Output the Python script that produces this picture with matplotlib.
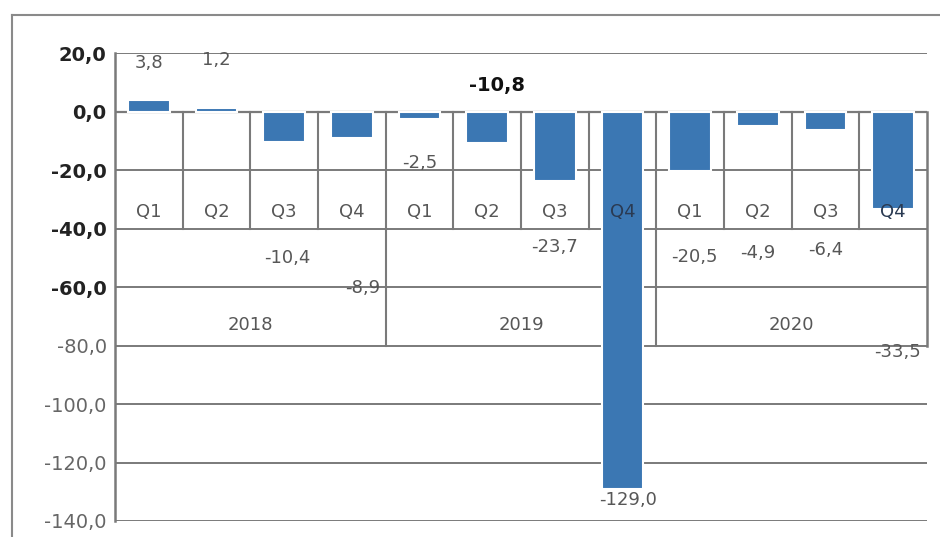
import matplotlib
matplotlib.use("Agg")
import matplotlib.pyplot as plt
from matplotlib.lines import Line2D
import numpy as np

# data
years = ["2018", "2019", "2020"]
quarters = ["Q1", "Q2", "Q3", "Q4"] * 3
values = [3.8, 1.2, -10.4, -8.9, -2.5, -10.8, -23.7, -129.0, -20.5, -4.9, -6.4, -33.5]
value_labels = ["3,8", "1,2", "-10,4", "-8,9", "-2,5", "-10,8", "-23,7", "-129,0",
                "-20,5", "-4,9", "-6,4", "-33,5"]
yticks = [20, 0, -20, -40, -60, -80, -100, -120, -140]
ytick_labels = ["20,0", "0,0", "-20,0", "-40,0", "-60,0", "-80,0", "-100,0", "-120,0", "-140,0"]

# where the scanned chart put its data labels (x offset, y in data units)
label_dx = [0, 0, 0.05, 0.16, 0, 0.15, 0, 0.08, 0.06, 0, 0, 0.06]
label_y = [16.6, 17.6, -50.0, -60.5, -17.5, 9.0, -46.3, -132.8, -49.7, -48.4, -47.4, -82.2]

blue = "#3b77b3"
grid_c = "#7a7a7a"
txt_c = "#575757"

fig = plt.figure(figsize=(9.4, 5.37), dpi=100)
ax = fig.add_axes([115 / 940, 1 - 521 / 537, (927 - 115) / 940, (521 - 53) / 537])

x = np.arange(len(values))
ax.set_xlim(-0.5, len(values) - 0.5)
ax.set_ylim(-140, 20)

# gridlines
for t in yticks:
    ax.axhline(t, color=grid_c, lw=1.4, zorder=1)

# category table lines
ax.axhline(0, color=grid_c, lw=1.6, zorder=1)
for b in np.arange(0.5, len(values) - 1, 1):
    ax.plot([b, b], [0, -40], color=grid_c, lw=1.5, zorder=1)
for b in [3.5, 7.5]:
    ax.plot([b, b], [-40, -80], color=grid_c, lw=1.5, zorder=1)
ax.plot([len(values) - 0.5] * 2, [0, -80], color=grid_c, lw=1.8, zorder=1, clip_on=False)

ax.bar(x, values, width=0.62, color=blue, edgecolor="white", linewidth=1.5, zorder=2)

# category labels
for i, q in enumerate(quarters):
    c = "#2a3a52" if values[i] < -30 else txt_c
    ax.text(i, -34.5, q, ha="center", va="center", fontsize=13, color=c, zorder=3)
for j, yr in enumerate(years):
    ax.text(4 * j + 1.5, -73, yr, ha="center", va="center", fontsize=13, color=txt_c, zorder=3)

# data labels
for i, lab in enumerate(value_labels):
    bold = lab == "-10,8"
    ax.text(i + label_dx[i], label_y[i], lab, ha="center", va="center",
            fontsize=13 if not bold else 14, fontweight="bold" if bold else "normal",
            color="#111111" if bold else txt_c, zorder=3)

ax.set_yticks(yticks)
ax.set_yticklabels(ytick_labels)
ax.set_xticks([])
for k, lab in enumerate(ax.get_yticklabels()):
    if k < 5:
        lab.set_color("#222222")
        lab.set_fontweight("bold")
    else:
        lab.set_color("#666666")
    lab.set_fontsize(14)
ax.tick_params(axis="y", length=0, pad=6)

for s in ["top", "right", "bottom"]:
    ax.spines[s].set_visible(False)
ax.spines["left"].set_color(grid_c)
ax.spines["left"].set_linewidth(1.8)

# outer frame of the scanned chart
fig.add_artist(Line2D([12 / 940, 12 / 940], [0, 1 - 15 / 537], color="#8a8a8a", lw=1.5))
fig.add_artist(Line2D([12 / 940, 1], [1 - 15 / 537, 1 - 15 / 537], color="#8a8a8a", lw=1.5))

fig.savefig("out.png", dpi=100)
